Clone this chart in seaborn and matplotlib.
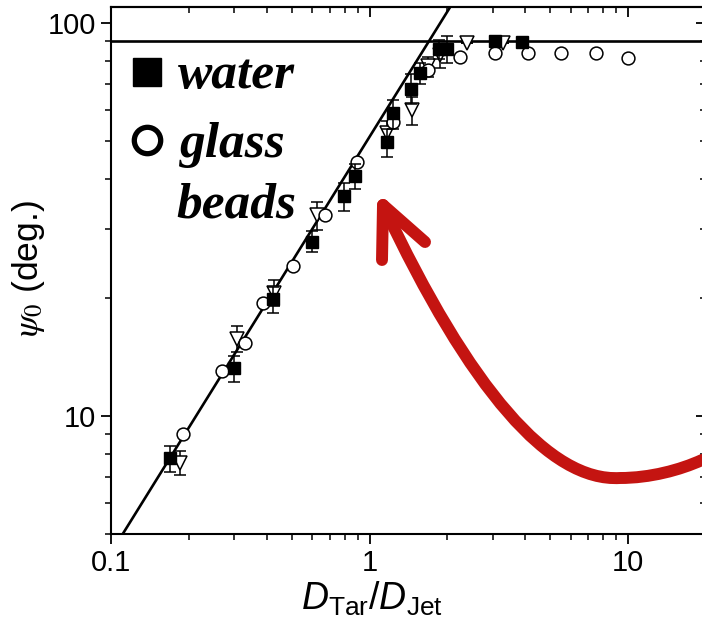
import numpy as np
import pandas as pd
import matplotlib
matplotlib.use("Agg")
import matplotlib.pyplot as plt
import seaborn as sns
from matplotlib.path import Path
from matplotlib.patches import PathPatch
from matplotlib.lines import Line2D
from matplotlib.ticker import LogLocator, NullFormatter, FixedLocator, FixedFormatter

# ---------------- data ----------------
water_x = [0.169, 0.299, 0.423, 0.600, 0.797, 0.879, 1.17, 1.23, 1.45, 1.57, 1.86, 1.99, 3.06, 3.89]
water_y = [7.8, 13.2, 19.8, 27.8, 36.2, 40.9, 49.7, 58.9, 68.2, 74.6, 85.9, 86.0, 90.0, 89.5]
water_err = [0.6, 1.0, 1.5, 1.7, 3.0, 3.0, 4.0, 5.0, 6.0, 4.5, 5.0, 7.0, 0.0, 0.0]

beads_x = [0.190, 0.269, 0.330, 0.387, 0.506, 0.673, 0.895, 1.23, 1.68, 2.24, 3.06, 4.1, 5.5, 7.5, 10.0]
beads_y = [9.0, 13.0, 15.3, 19.4, 24.1, 32.4, 44.2, 55.9, 75.9, 81.9, 83.8, 84.0, 84.0, 84.0, 81.4]

other_x = [0.185, 0.307, 0.427, 0.626, 1.17, 1.46, 1.68, 1.87, 2.38, 3.28]
other_y = [7.6, 15.7, 20.6, 32.4, 52.4, 60.0, 77.6, 82.8, 88.9, 89.0]
other_err = [0.55, 1.2, 1.6, 2.6, 4.0, 5.0, 4.5, 6.0, 0.0, 0.0]

fit_x = [0.111, 2.05]
fit_y = [5.0, 110.0]
plateau_y = 90.0

x_ticks = [0.1, 1, 10]
x_ticklabels = ["0.1", "1", "10"]
y_ticks = [10, 100]
y_ticklabels = ["10", "100"]

# ---------------- style ----------------
sns.set_theme(style="ticks")
plt.rcParams["font.family"] = ["Liberation Sans", "DejaVu Sans"]
plt.rcParams["mathtext.fontset"] = "custom"
plt.rcParams["mathtext.rm"] = "Liberation Sans"
plt.rcParams["mathtext.it"] = "Liberation Sans:italic"

W, H = 702, 627
fig = plt.figure(figsize=(W / 100, H / 100), dpi=100)
fig.patch.set_facecolor("white")
ax = fig.add_axes([111 / W, 1 - 534 / H, (706 - 111) / W, 527 / H])
ax.set_facecolor("white")
ax.set_xscale("log")
ax.set_yscale("log")
ax.set_xlim(0.1, 20)
ax.set_ylim(5, 110)

# fit line and plateau
sns.lineplot(x=fit_x, y=fit_y, ax=ax, color="black", linewidth=1.9, zorder=2)
ax.axhline(plateau_y, color="black", linewidth=1.9, zorder=2)

# data with error bars
ax.errorbar(other_x, other_y, yerr=other_err, fmt="v", ms=10, mfc="white", mec="black",
            mew=1.1, ecolor="black", elinewidth=1.1, capsize=4.3, capthick=1.1, zorder=3)
dfb = pd.DataFrame({"x": beads_x, "y": beads_y})
sns.scatterplot(data=dfb, x="x", y="y", ax=ax, marker="o", s=85, facecolor="white",
                edgecolor="black", linewidth=1.1, zorder=4)
ax.errorbar(water_x, water_y, yerr=water_err, fmt="s", ms=8.5, mfc="black", mec="black",
            ecolor="black", elinewidth=1.1, capsize=4.3, capthick=1.1, zorder=5)

# axes styling
for s in ax.spines.values():
    s.set_linewidth(1.5)
    s.set_color("black")
ax.xaxis.set_major_locator(FixedLocator(x_ticks))
ax.xaxis.set_major_formatter(FixedFormatter(x_ticklabels))
ax.yaxis.set_major_locator(FixedLocator(y_ticks))
ax.yaxis.set_major_formatter(FixedFormatter(y_ticklabels))
ax.xaxis.set_minor_locator(LogLocator(base=10, subs=np.arange(2, 10)))
ax.yaxis.set_minor_locator(LogLocator(base=10, subs=np.arange(2, 10)))
ax.xaxis.set_minor_formatter(NullFormatter())
ax.yaxis.set_minor_formatter(NullFormatter())
ax.tick_params(which="major", direction="out", length=7, width=1.3, labelsize=21,
               colors="black", labelcolor="black", pad=4)
ax.tick_params(which="minor", direction="out", length=4.5, width=1.1, colors="black")
ax.tick_params(which="both", top=False, right=False)

# mirrored inward ticks on top and right
sec_x = ax.secondary_xaxis("top")
sec_x.xaxis.set_major_locator(FixedLocator(x_ticks))
sec_x.xaxis.set_minor_locator(LogLocator(base=10, subs=np.arange(2, 10)))
sec_x.tick_params(which="major", direction="in", length=7, width=1.3, labeltop=False,
                  colors="black")
sec_x.tick_params(which="minor", direction="in", length=4.5, width=1.1, colors="black")
sec_x.spines["top"].set_linewidth(1.5)
sec_x.spines["top"].set_color("black")
sec_y = ax.secondary_yaxis("right")
sec_y.yaxis.set_major_locator(FixedLocator(y_ticks))
sec_y.yaxis.set_minor_locator(LogLocator(base=10, subs=np.arange(2, 10)))
sec_y.tick_params(which="major", direction="in", length=7, width=1.3, labelright=False,
                  colors="black")
sec_y.tick_params(which="minor", direction="in", length=4.5, width=1.1, colors="black")

ax.set_xlabel(r"$D_{\mathrm{Tar}}/D_{\mathrm{Jet}}$", fontsize=27, color="black")
ax.xaxis.set_label_coords(0.4387, -0.086)
ax.set_ylabel(r"$\psi_{\mathit{0}}$ (deg.)", fontsize=25.5, color="black",
              math_fontfamily="stix")
ax.yaxis.set_label_coords(-0.1076, 0.503)

# in-plot legend text
ax.plot([0.0605], [0.8767], marker="s", ms=20, color="black", transform=ax.transAxes,
        clip_on=False, zorder=6)
ax.plot([0.0605], [0.7476], marker="o", ms=19, mfc="white", mec="black", mew=3.8,
        transform=ax.transAxes, clip_on=False, zorder=6)
tfont = dict(family=["Liberation Serif", "DejaVu Serif"], weight="bold", style="italic",
             fontsize=37, color="black")
fig.text(178 / W, 1 - 88 / H, "water", ha="left", va="baseline", **tfont)
fig.text(180 / W, 1 - 157 / H, "glass", ha="left", va="baseline", **tfont)
fig.text(176 / W, 1 - 218 / H, "beads", ha="left", va="baseline", **tfont)

# red curved arrow (annotation)
def P(px, py):
    return (px / W, 1 - py / H)

red = "#c41411"
verts = [P(702, 460), P(680, 470), P(650, 478), P(620, 478),
         P(550, 482), P(470, 390), P(383, 205)]
codes = [Path.MOVETO, Path.CURVE4, Path.CURVE4, Path.CURVE4,
         Path.CURVE4, Path.CURVE4, Path.CURVE4]
fig.add_artist(PathPatch(Path(verts, codes), facecolor="none", edgecolor=red,
                         linewidth=8.6, capstyle="round", joinstyle="round",
                         transform=fig.transFigure, zorder=10))
head = [P(382, 260), P(383, 205), P(425, 242)]
fig.add_artist(Line2D([p[0] for p in head], [p[1] for p in head], color=red,
                      linewidth=8.6, solid_capstyle="round", solid_joinstyle="round",
                      transform=fig.transFigure, zorder=10))

fig.savefig("out.png", dpi=100, facecolor="white")
